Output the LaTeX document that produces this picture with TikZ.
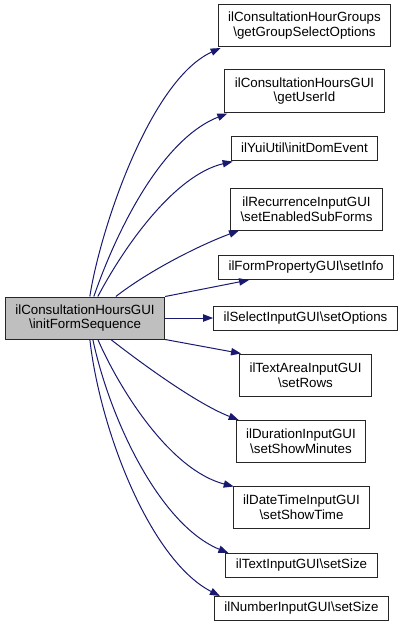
\documentclass[tikz,border=0pt]{standalone}
\usepackage{fontspec}
\setmainfont{Liberation Sans}
\usetikzlibrary{arrows.meta,calc}
\definecolor{dxedge}{RGB}{25,25,112}
\definecolor{dxgrey}{RGB}{191,191,191}

\begin{document}
\begin{tikzpicture}[x=0.75pt,y=-0.75pt,
  fn/.style={rectangle,draw=black!85,line width=0.75pt,align=center,fill=white,
             font=\fontsize{10}{11}\selectfont,inner xsep=7.5pt,inner ysep=2pt,minimum height=18pt},
  fntwo/.style={fn,minimum height=31.5pt},
  caller/.style={fntwo,fill=dxgrey},
  arr/.style={-{Triangle[length=7.5pt,width=5.5pt]},draw=dxedge,line width=0.75pt}
]
\useasboundingbox (0,0) rectangle (404,635);

\node[caller] (main) at (85,318) {ilConsultationHoursGUI\\\textbackslash initFormSequence};

\node[fntwo] (grp) at (304.5,25.5) {ilConsultationHourGroups\\\textbackslash getGroupSelectOptions};
\node[fntwo] (uid) at (304.5,91) {ilConsultationHoursGUI\\\textbackslash getUserId};
\node[fn] (dom) at (304.5,148) {ilYuiUtil\textbackslash initDomEvent};
\node[fntwo] (sub) at (306.5,209) {ilRecurrenceInputGUI\\\textbackslash setEnabledSubForms};
\node[fn] (info) at (306,267.5) {ilFormPropertyGUI\textbackslash setInfo};
\node[fn] (opts) at (305.5,318) {ilSelectInputGUI\textbackslash setOptions};
\node[fntwo] (rows) at (305.5,375) {ilTextAreaInputGUI\\\textbackslash setRows};
\node[fntwo] (mins) at (301,441.5) {ilDurationInputGUI\\\textbackslash setShowMinutes};
\node[fntwo] (time) at (301.5,507) {ilDateTimeInputGUI\\\textbackslash setShowTime};
\node[fn] (tsize) at (301.5,565.5) {ilTextInputGUI\textbackslash setSize};
\node[fn] (nsize) at (301.5,608.5) {ilNumberInputGUI\textbackslash setSize};

% calls above the caller
\draw[arr] ($(main.north west)+(85,0)$) .. controls (100,230) and (150,80) .. ($(grp.south west)+(3,1)$);
\draw[arr] ($(main.north west)+(89,0)$) .. controls (115,235) and (160,140) .. ($(uid.south west)+(3,1)$);
\draw[arr] ($(main.north west)+(93,0)$) .. controls (125,245) and (175,175) .. ($(dom.south west)+(2,1)$);
\draw[arr] ($(main.north west)+(111,0)$) .. controls (150,270) and (200,245) .. ($(sub.south west)+(9,0)$);
\draw[arr] (main.north east) -- ($(info.south west)+(31,0)$);
\draw[arr] (main.east) -- (opts.west);
% calls below the caller
\draw[arr] (main.south east) -- ($(rows.north west)+(2,0)$);
\draw[arr] ($(main.south west)+(106,0)$) .. controls (150,370) and (200,405) .. ($(mins.north west)+(3,0)$);
\draw[arr] ($(main.south west)+(93,0)$) .. controls (120,390) and (170,470) .. ($(time.north west)+(1,1)$);
\draw[arr] ($(main.south west)+(88,0)$) .. controls (110,420) and (160,525) .. ($(tsize.north west)+(3,0)$);
\draw[arr] ($(main.south west)+(85,0)$) .. controls (100,430) and (150,560) .. ($(nsize.north west)+(6,0)$);
\end{tikzpicture}
\end{document}
